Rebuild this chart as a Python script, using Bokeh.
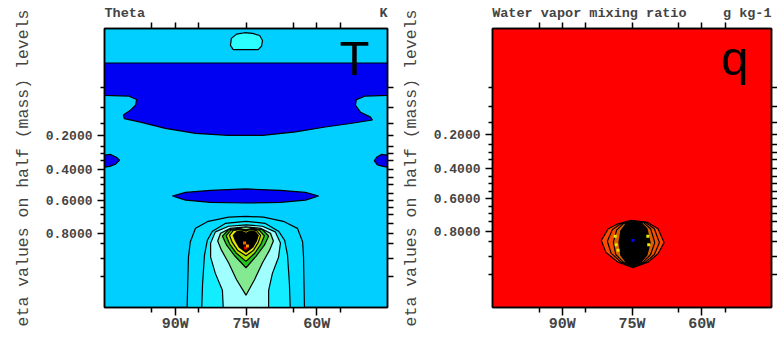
from bokeh.plotting import figure
from bokeh.models import Range1d, LinearAxis, FixedTicker, Label
from bokeh.layouts import row
from bokeh.embed import file_html
from bokeh.resources import INLINE

# ---------------- axis values ----------------
lon_major = [-90, -75, -60]
lon_major_labels = ["90W", "75W", "60W"]
lon_minor = [-95, -85, -65, -55]
eta_major_lev = [24.8, 20.0, 15.6, 10.9]
eta_major_labels = ["0.2000", "0.4000", "0.6000", "0.8000"]
eta_minor_lev = [31.6, 28.8, 26.5, 23.3, 22.2, 21.2, 18.8, 17.8, 16.6, 14.5, 13.5, 12.3, 9.4, 7.3, 4.7]

# panel titles (left / right strings above each frame)
theta_titles = ["Theta", "K"]
q_titles = ["Water vapor mixing ratio", "g kg-1"]

# ---------------- Theta panel (lon, model level) ----------------
theta_bg = "#00CFFF"
theta_band_lon = [-105, -45, -45, -49.7, -51.6, -51.8, -50.7, -48.6, -48.2, -52.9, -58.2, -64.5, -71.5,
                  -78.7, -85.7, -92.1, -97.4, -100.8, -101.0, -99.5, -98.4, -98.2, -99.9, -105]
theta_band_lev = [35.1, 35.1, 30.5, 30.4, 29.9, 29.1, 28.1, 27.4, 27.0, 26.5, 26.0, 25.3, 24.8,
                  24.8, 25.1, 25.8, 26.7, 27.2, 27.7, 28.4, 29.1, 29.9, 30.4, 30.5]
theta_cap_lon = [-78.3, -78.1, -77.0, -75.3, -73.6, -72.1, -71.5, -71.7, -72.4, -77.7]
theta_cap_lev = [37.6, 38.6, 39.2, 39.4, 39.3, 39.0, 38.3, 37.5, 37.0, 37.0]
theta_lens_lon = [-90.6, -87.8, -82.5, -75.1, -67.7, -62.4, -59.6, -62.4, -67.7, -75.1, -82.5, -87.8]
theta_lens_lev = [16.2, 16.7, 17.0, 17.2, 17.0, 16.7, 16.2, 15.6, 15.3, 15.2, 15.3, 15.6]
theta_edgeL_lon = [-105, -103.7, -102.5, -101.8, -102.7, -103.9, -105]
theta_edgeL_lev = [22.0, 22.1, 21.7, 21.3, 20.7, 20.4, 20.3]
theta_edgeR_lon = [-45, -46.3, -47.3, -47.8, -47.1, -45.9, -45]
theta_edgeR_lev = [22.0, 22.1, 21.7, 21.2, 20.6, 20.4, 20.3]

plume1_lon = [-87.5, -87.2, -86.8, -85.7, -83.0, -78.7, -75.0, -71.3, -67.1, -64.1, -63.0, -62.8, -62.6]
plume1_lev = [0, 7.5, 9.7, 11.6, 12.6, 13.2, 13.3, 13.2, 12.6, 11.6, 9.7, 7.5, 0]
plume2_lon = [-84.4, -84.2, -83.8, -83.2, -82.1, -79.4, -75.0, -70.9, -68.1, -66.8, -66.2, -65.8, -65.6]
plume2_lev = [0, 3.8, 7.8, 9.9, 11.2, 12.3, 12.6, 12.3, 11.2, 9.9, 7.8, 3.8, 0]
plume3_lon = [-79.8, -80.0, -81.5, -82.5, -82.5, -81.5, -78.7, -75.0, -71.5, -68.8, -67.7, -68.1, -69.4, -70.2, -70.2]
plume3_lev = [0, 2.8, 5.2, 7.5, 9.5, 11.1, 11.9, 12.1, 11.9, 11.1, 9.5, 7.5, 5.2, 2.8, 0]
plume4_lon = [-75.0, -77.0, -78.7, -80.2, -81.0, -80.4, -78.3, -75.0, -71.9, -69.8, -69.2, -70.0, -71.5, -73.2]
plume4_lev = [2.1, 4.3, 6.7, 8.5, 9.8, 10.9, 11.6, 11.8, 11.6, 10.9, 9.8, 8.5, 6.7, 4.3]
plume5_lon = [-75.0, -77.4, -79.1, -80.0, -78.7, -76.6, -75.0, -73.6, -71.5, -70.2, -71.1, -72.8]
plume5_lev = [6.0, 7.7, 9.2, 10.5, 11.4, 11.6, 11.4, 11.6, 11.4, 10.5, 9.2, 7.7]
plume6_lon = [-75.0, -77.1, -78.5, -79.2, -78.2, -76.4, -75.0, -74.0, -72.2, -71.1, -71.8, -73.1]
plume6_lev = [6.9, 8.1, 9.4, 10.55, 11.35, 11.5, 11.3, 11.5, 11.35, 10.55, 9.4, 8.1]
plume7_lon = [-75.0, -76.8, -77.9, -78.5, -77.7, -76.2, -75.0, -74.3, -72.8, -71.9, -72.4, -73.4]
plume7_lev = [7.7, 8.5, 9.6, 10.6, 11.3, 11.4, 11.2, 11.4, 11.3, 10.6, 9.6, 8.5]
plume8_lon = [-75.0, -76.4, -77.2, -77.7, -77.0, -76.0, -75.0, -74.1, -73.0, -72.4, -72.8, -73.6]
plume8_lev = [8.2, 8.9, 9.8, 10.6, 11.1, 11.2, 10.9, 11.2, 11.1, 10.6, 9.8, 8.9]
theta_peak_lon = [-75.3, -75.1, -74.7]
theta_peak_lev = [9.5, 8.8, 9.1]
theta_peak_col = ["#FF6600", "#E00000", "#FF9900"]

theta_polys = [
    (theta_band_lon, theta_band_lev, "#0000F2"),
    (theta_cap_lon, theta_cap_lev, "#2CFFFF"),
    (theta_lens_lon, theta_lens_lev, "#0000F2"),
    (theta_edgeL_lon, theta_edgeL_lev, "#0000F2"),
    (theta_edgeR_lon, theta_edgeR_lev, "#0000F2"),
    (plume1_lon, plume1_lev, "#00DCFF"),
    (plume2_lon, plume2_lev, "#12EEFF"),
    (plume3_lon, plume3_lev, "#A0FFFF"),
    (plume4_lon, plume4_lev, "#84EA92"),
    (plume5_lon, plume5_lev, "#22C422"),
    (plume6_lon, plume6_lev, "#A4E000"),
    (plume7_lon, plume7_lev, "#E8E800"),
    (plume8_lon, plume8_lev, "#000000"),
]

# ---------------- Water vapor panel ----------------
q_bg = "#FF0000"
q_outer_lon = [-81.6, -80.1, -78.0, -75.2, -71.6, -69.4, -68.1, -69.4, -71.6, -74.8, -78.0, -80.6]
q_outer_lev = [9.6, 11.3, 12.0, 12.5, 12.2, 11.3, 9.3, 7.7, 6.5, 5.7, 6.5, 7.9]
q_ringA_lon = [-80.3, -79.2, -77.4, -75.1, -72.1, -70.2, -69.1, -70.2, -72.1, -74.8, -77.4, -79.5]
q_ringA_lev = [9.5, 11.2, 12.0, 12.4, 12.2, 11.3, 9.3, 7.6, 6.5, 5.8, 6.5, 7.8]
q_ringB_lon = [-79.0, -78.3, -76.9, -74.9, -72.6, -71.0, -70.1, -71.0, -72.6, -74.8, -76.9, -78.5]
q_ringB_lev = [9.4, 11.1, 12.0, 12.4, 12.2, 11.3, 9.3, 7.6, 6.5, 5.9, 6.5, 7.6]
q_core_lon = [-77.8, -77.4, -76.3, -74.8, -73.1, -71.8, -71.1, -71.8, -73.1, -74.8, -76.3, -77.4]
q_core_lev = [9.3, 11.0, 12.0, 12.3, 12.2, 11.3, 9.3, 7.5, 6.5, 6.0, 6.5, 7.5]
q_spot_lon = [-78.6, -78.4, -78.0, -71.6, -71.4, -74.8]
q_spot_lev = [10.2, 9.0, 8.2, 10.2, 9.0, 9.6]
q_spot_col = ["#E8E800", "#E8E800", "#E8E800", "#E8E800", "#E8E800", "#0000FF"]

q_polys = [
    (q_outer_lon, q_outer_lev, "#FF4A00"),
    (q_ringA_lon, q_ringA_lev, "#F25000"),
    (q_ringB_lon, q_ringB_lev, "#D86000"),
    (q_core_lon, q_core_lev, "#000000"),
]

MONO = "Liberation Mono"
TITLE_SIZE = 13.5  # px
CHAR_W = 0.6 * TITLE_SIZE  # monospace advance


def tick_style(ax, major_out, minor_out):
    ax.major_tick_out = major_out
    ax.major_tick_in = 0
    ax.minor_tick_out = minor_out
    ax.minor_tick_in = 0
    ax.major_tick_line_color = "black"
    ax.major_tick_line_width = 1.5
    ax.minor_tick_line_color = "black"
    ax.minor_tick_line_width = 1.5
    ax.axis_line_color = "black"
    ax.axis_line_width = 1.5


def make_panel(width, bl, br, bb, frame_w, y_start, bg, polys, titles, title_standoff):
    p = figure(width=width, height=338, x_range=Range1d(-105, -45), y_range=Range1d(y_start, 40),
               output_backend="svg", toolbar_location=None,
               min_border_left=bl, min_border_right=br, min_border_top=28, min_border_bottom=bb)
    p.background_fill_color = bg
    p.border_fill_color = "white"
    p.outline_line_color = "black"
    p.outline_line_width = 1.5
    p.xgrid.grid_line_color = None
    p.ygrid.grid_line_color = None

    # bottom axis with longitude labels
    xa = p.xaxis[0]
    xa.ticker = FixedTicker(ticks=lon_major, minor_ticks=lon_minor)
    tick_style(xa, 8, 5)
    xa.major_label_overrides = dict(zip(lon_major, lon_major_labels))
    xa.major_label_text_font = MONO
    xa.major_label_text_font_style = "bold"
    xa.major_label_text_font_size = "15px"
    xa.major_label_standoff = 0

    # top axis: mirrored tick marks + the panel's left/right title strings
    deg_per_px = 60.0 / frame_w
    left_c = -105 + 0.5 * len(titles[0]) * CHAR_W * deg_per_px
    right_c = -45 - 0.5 * len(titles[1]) * CHAR_W * deg_per_px
    top = LinearAxis(ticker=FixedTicker(ticks=[left_c, right_c], minor_ticks=lon_major + lon_minor))
    tick_style(top, 0, 6)
    top.major_tick_line_color = None
    top.major_label_overrides = {left_c: titles[0], right_c: titles[1]}
    top.major_label_text_font = MONO
    top.major_label_text_font_style = "bold"
    top.major_label_text_font_size = "%.1fpx" % TITLE_SIZE
    top.major_label_standoff = title_standoff
    p.add_layout(top, "above")

    # left axis with eta labels
    ya = p.yaxis[0]
    ya.ticker = FixedTicker(ticks=eta_major_lev, minor_ticks=eta_minor_lev)
    tick_style(ya, 7, 4)
    ya.major_label_overrides = dict(zip(eta_major_lev, eta_major_labels))
    ya.major_label_text_font = MONO
    ya.major_label_text_font_style = "bold"
    ya.major_label_text_font_size = "13px"
    ya.major_label_standoff = 5
    ya.axis_label = "eta values on half (mass) levels"
    ya.axis_label_text_font = MONO
    ya.axis_label_text_font_style = "normal"
    ya.axis_label_text_font_size = "16.5px"
    ya.axis_label_standoff = 10

    # mirrored ticks on right (no labels)
    ra = LinearAxis(ticker=FixedTicker(ticks=[], minor_ticks=eta_major_lev + eta_minor_lev))
    tick_style(ra, 6, 6)
    ra.major_label_standoff = 0
    p.add_layout(ra, "right")

    p.patches(xs=[pp[0] for pp in polys], ys=[pp[1] for pp in polys],
              fill_color=[pp[2] for pp in polys], line_color="black", line_width=1.2)
    return p


p1 = make_panel(398, 104, 11, 28, 283, 0.35, theta_bg, theta_polys, theta_titles, 2)
p1.scatter(theta_peak_lon, theta_peak_lev, marker="square", size=3, fill_color=theta_peak_col, line_color=None)
p1.add_layout(Label(x=-52.0, y=35.8, text="T", text_align="center", text_baseline="middle",
                    text_font="Liberation Sans", text_font_size="49px", text_color="black"))

p2 = make_panel(379, 93, 6, 31, 280, 0.0, q_bg, q_polys, q_titles, 2)
p2.scatter(q_spot_lon, q_spot_lev, marker="square", size=3, fill_color=q_spot_col, line_color=None)
p2.add_layout(Label(x=-52.9, y=35.8, text="q", text_align="center", text_baseline="middle",
                    text_font="Liberation Sans", text_font_size="49px", text_color="black"))

layout = row(p1, p2)
open("out.html", "w").write(file_html(layout, INLINE))
